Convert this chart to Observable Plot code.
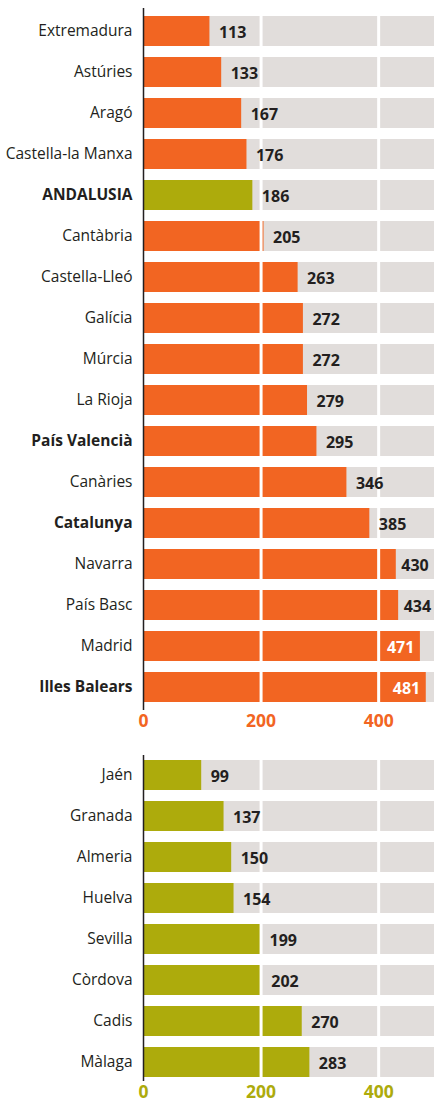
<!DOCTYPE html>
<html>
<head>
<meta charset="utf-8">
<script src="https://cdn.jsdelivr.net/npm/d3@7"></script>
<script src="https://cdn.jsdelivr.net/npm/@observablehq/plot@0.6"></script>
<style>
  html, body { margin: 0; padding: 0; background: #fff; }
  #chart svg { display: block; }
</style>
</head>
<body>
<div id="chart"></div>
<script>
// Top panel: autonomous communities
const regions = ["Extremadura","Astúries","Aragó","Castella-la Manxa","ANDALUSIA","Cantàbria","Castella-Lleó","Galícia","Múrcia","La Rioja","País Valencià","Canàries","Catalunya","Navarra","País Basc","Madrid","Illes Balears"];
const regionValues = [113,133,167,176,186,205,263,272,272,279,295,346,385,430,434,471,481];
const boldRegions = ["ANDALUSIA","País Valencià","Catalunya","Illes Balears"];
const highlightRegion = "ANDALUSIA";

// Bottom panel: Andalusian provinces
const provinces = ["Jaén","Granada","Almeria","Huelva","Sevilla","Còrdova","Cadis","Màlaga"];
const provinceValues = [99,137,150,154,199,202,270,283];

const xTicks = [0,200,400];
const xMax = 495;

const ORANGE = "#f26522";
const OLIVE = "#adab0c";
const GRAY = "#e1dddb";
const TEXT = "#231f20";
const FONT = "'Open Sans', sans-serif";

function panel(names, values, opts) {
  const data = names.map((n, i) => ({name: n, value: values[i]}));
  const inside = d => d.value > 450;
  const nearEdge = d => d.value >= 420 && !inside(d);
  const outside = d => d.value < 420;
  const valueText = {y: "name", x: "value", text: d => String(d.value), dy: 1, fontWeight: "bold", fontSize: 16};
  return Plot.plot({
    width: 434,
    height: opts.height,
    marginLeft: 143,
    marginRight: 0,
    marginTop: opts.marginTop,
    marginBottom: opts.marginBottom,
    style: {fontFamily: FONT, background: "#fff"},
    x: {domain: [0, xMax], axis: null},
    y: {domain: names, axis: null, paddingInner: 0.27, paddingOuter: 0.1},
    marks: [
      Plot.barX(data, {y: "name", x1: 0, x2: xMax, fill: GRAY}),
      Plot.barX(data, {y: "name", x: "value", fill: d => opts.color(d.name)}),
      Plot.ruleX([200, 400], {stroke: "#fff", strokeWidth: 3}),
      Plot.ruleX([0], {stroke: TEXT, strokeWidth: 1.5}),
      Plot.text(data.filter(outside), {...valueText, textAnchor: "start", dx: 9, fill: TEXT}),
      Plot.text(data.filter(nearEdge), {...valueText, textAnchor: "start", dx: 5, fill: TEXT}),
      Plot.text(data.filter(inside), {...valueText, textAnchor: "end", dx: -6, fill: "#fff"}),
      Plot.text(data.filter(d => !boldRegions.includes(d.name)), {y: "name", x: 0, text: "name", textAnchor: "end", dx: -11, fill: TEXT, fontSize: 15.5}),
      Plot.text(data.filter(d => boldRegions.includes(d.name)), {y: "name", x: 0, text: "name", textAnchor: "end", dx: -11, fill: TEXT, fontSize: 15.5, fontWeight: "bold"}),
      Plot.axisX({ticks: xTicks, tickSize: 0, tickPadding: 4, fontSize: 17.5, fontWeight: "bold", fill: opts.tickColor, tickFormat: d => String(d), label: null})
    ]
  });
}

const chart = document.getElementById("chart");
chart.appendChild(panel(regions, regionValues, {
  height: 735, marginTop: 8, marginBottom: 25,
  color: n => n === highlightRegion ? OLIVE : ORANGE,
  tickColor: ORANGE
}));
chart.appendChild(panel(provinces, provinceValues, {
  height: 368, marginTop: 20, marginBottom: 22,
  color: () => OLIVE,
  tickColor: OLIVE
}));
</script>
</body>
</html>
